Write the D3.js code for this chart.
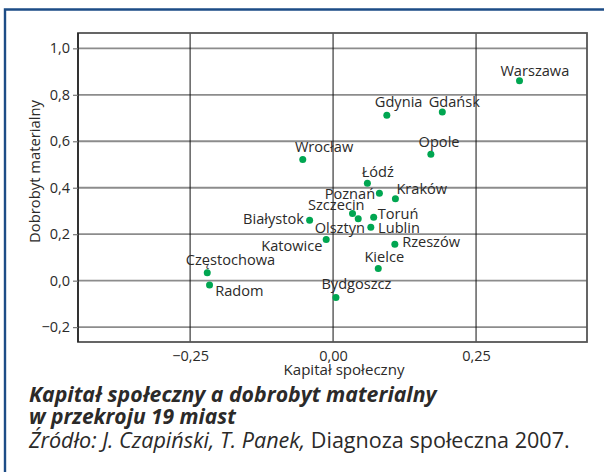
<!DOCTYPE html>
<html lang="pl">
<head>
<meta charset="utf-8">
<title>Kapitał społeczny a dobrobyt materialny</title>
<script src="https://cdn.jsdelivr.net/npm/d3@7"></script>
<style>
body { margin: 0; background: #fff; }
svg { display: block; font-family: "Open Sans", sans-serif; }
</style>
</head>
<body>
<script>
// data
var cities   = ["Warszawa", "Gdynia", "Gdańsk", "Opole", "Wrocław", "Łódź", "Poznań", "Kraków",
                "Szczecin", "Olsztyn", "Toruń", "Lublin", "Białystok", "Katowice", "Rzeszów",
                "Kielce", "Częstochowa", "Radom", "Bydgoszcz"];
var kapital  = [0.326, 0.094, 0.191, 0.171, -0.053, 0.060, 0.081, 0.109,
                0.034, 0.044, 0.071, 0.066, -0.041, -0.012, 0.108,
                0.079, -0.220, -0.216, 0.005];
var dobrobyt = [0.861, 0.712, 0.726, 0.544, 0.522, 0.419, 0.376, 0.353,
                0.289, 0.266, 0.273, 0.230, 0.260, 0.177, 0.157,
                0.052, 0.034, -0.019, -0.073];
var xTicks = [-0.25, 0, 0.25];
var yTicks = [-0.2, 0, 0.2, 0.4, 0.6, 0.8, 1.0];
var xTitle = "Kapitał społeczny";
var yTitle = "Dobrobyt materialny";
var title = ["Kapitał społeczny a dobrobyt materialny", "w przekroju 19 miast"];
var sourceItalic = "Źródło: J. Czapiński, T. Panek,";
var sourcePlain = " Diagnoza społeczna 2007.";

// label placement next to each dot: [anchor, dx, dy]
var labelPos = {
  "Warszawa": ["middle", 15.3, -4.7], "Gdynia": ["middle", 11.8, -8.6],
  "Gdańsk": ["middle", 12, -5.3], "Opole": ["middle", 8.2, -7.6],
  "Wrocław": ["middle", 21.3, -7.6], "Łódź": ["middle", 10.4, -6.6],
  "Kielce": ["middle", 6, -7], "Częstochowa": ["middle", 23.2, -8],
  "Bydgoszcz": ["middle", 20.5, -8.4],
  "Kraków": ["start", 1, -4.4], "Toruń": ["start", 4, 1.7],
  "Lublin": ["start", 7.3, 5.4], "Rzeszów": ["start", 7.3, 2.4],
  "Radom": ["start", 5.7, 10.7],
  "Poznań": ["end", -4.3, 5.7], "Szczecin": ["end", 12, -3.7],
  "Olsztyn": ["end", 6.7, 14.3], "Białystok": ["end", -5.7, 4],
  "Katowice": ["end", -3.7, 11.3]
};

var W = 604, H = 472;
var pLeft = 78, pRight = 587, pTop = 33, pBottom = 342;
var ink = "#2b2a29";

var svg = d3.select("body").append("svg")
  .attr("width", W).attr("height", H);

svg.append("rect").attr("width", W).attr("height", H).attr("fill", "#fff");

// blue frame (top + left edge)
svg.append("path")
  .attr("d", "M5," + H + "V9.5H" + W)
  .attr("fill", "none").attr("stroke", "#1d4c86").attr("stroke-width", 2.4);

var x = d3.scaleLinear().domain([-0.446, 0.444]).range([pLeft, pRight]);
var y = d3.scaleLinear().domain([-0.264, 1.066]).range([pBottom, pTop]);

var comma = function(f) { return function(d) { return d3.format(f)(d).replace(".", ","); }; };

// squeeze/stretch font size so text spans the width seen in the original
function fit(t, target, size) {
  t.style("font-size", size + "px");
  var w = t.node().getComputedTextLength();
  t.style("font-size", (size * target / w) + "px");
}

// horizontal grid
svg.append("g").selectAll("line")
  .data(yTicks)
  .enter().append("line")
  .attr("x1", pLeft).attr("x2", pRight)
  .attr("y1", function(d) { return y(d); })
  .attr("y2", function(d) { return y(d); })
  .attr("stroke", "#8c8c8c").attr("stroke-width", 1.8);

// vertical grid
svg.append("g").selectAll("line")
  .data(xTicks)
  .enter().append("line")
  .attr("x1", function(d) { return x(d); })
  .attr("x2", function(d) { return x(d); })
  .attr("y1", pTop).attr("y2", pBottom)
  .attr("stroke", "#111").attr("stroke-width", 1);

// plot frame
svg.append("rect")
  .attr("x", pLeft).attr("y", pTop)
  .attr("width", pRight - pLeft).attr("height", pBottom - pTop)
  .attr("fill", "none").attr("stroke", "#555").attr("stroke-width", 1.8);
svg.append("line")
  .attr("x1", pLeft).attr("x2", pLeft).attr("y1", pTop).attr("y2", pBottom)
  .attr("stroke", "#111").attr("stroke-width", 1.2);

// y axis
var yAxis = svg.append("g")
  .attr("transform", "translate(" + pLeft + ",0)")
  .call(d3.axisLeft(y).tickValues(yTicks).tickSize(5).tickPadding(3).tickFormat(comma(".1f")));
yAxis.select(".domain").remove();
yAxis.selectAll("line").attr("stroke", "#777").attr("stroke-width", 1.2);
yAxis.selectAll("text").attr("fill", ink).style("font-size", "14.5px").style("font-family", "Open Sans");

// x axis
var xAxis = svg.append("g")
  .attr("transform", "translate(0," + pBottom + ")")
  .call(d3.axisBottom(x).tickValues(xTicks).tickSize(0).tickFormat(comma(".2f")));
xAxis.select(".domain").remove();
xAxis.selectAll("text").attr("fill", ink).attr("dy", null).attr("y", 18.5)
  .style("font-size", "14.5px").style("font-family", "Open Sans");

// axis titles
var xt = svg.append("text")
  .attr("x", 344).attr("y", 375)
  .attr("text-anchor", "middle")
  .attr("fill", ink)
  .text(xTitle);
fit(xt, 121, 13);

var yt = svg.append("text")
  .attr("transform", "translate(39.5,171.5) rotate(-90)")
  .attr("text-anchor", "middle")
  .attr("fill", ink)
  .text(yTitle);
fit(yt, 143, 13);

// points
var points = cities.map(function(c, i) { return { name: c, k: kapital[i], d: dobrobyt[i] }; });

svg.append("g").selectAll("circle")
  .data(points)
  .enter().append("circle")
  .attr("cx", function(d) { return x(d.k); })
  .attr("cy", function(d) { return y(d.d); })
  .attr("r", 3.5)
  .attr("fill", "#00a651");

svg.append("g").selectAll("text")
  .data(points)
  .enter().append("text")
  .attr("x", function(d) { return x(d.k) + labelPos[d.name][1]; })
  .attr("y", function(d) { return y(d.d) + labelPos[d.name][2]; })
  .attr("text-anchor", function(d) { return labelPos[d.name][0]; })
  .attr("fill", ink)
  .style("font-size", "14.6px")
  .text(function(d) { return d.name; });

// caption
var t1 = svg.append("text").attr("x", 29).attr("y", 402)
  .attr("fill", ink).style("font-weight", "bold").style("font-style", "italic")
  .text(title[0]);
fit(t1, 408, 19);

var t2 = svg.append("text").attr("x", 29).attr("y", 424)
  .attr("fill", ink).style("font-weight", "bold").style("font-style", "italic")
  .text(title[1]);
fit(t2, 207, 19);

var t3 = svg.append("text").attr("x", 29).attr("y", 448).attr("fill", ink);
t3.append("tspan").style("font-style", "italic").text(sourceItalic);
t3.append("tspan").text(sourcePlain);
fit(t3, 541, 19);
</script>
</body>
</html>
